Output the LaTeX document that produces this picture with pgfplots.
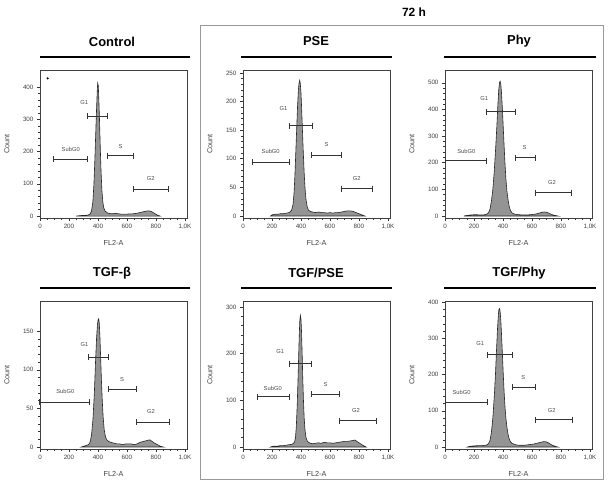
\documentclass[border=0pt]{standalone}
\usepackage{pgfplots}
\pgfplotsset{compat=1.18}
\usepackage{fontspec}
\setmainfont{Liberation Sans}
\pgfplotsset{
  flow/.style={scale only axis, width=147bp, height=148bp, anchor=north west,
    xmin=0, xmax=1014, xtick={0,200,400,600,800,1000},
    xticklabels={0,200,400,600,800,{1,0K}},
    minor x tick num=3, minor y tick num=4,
    tick align=outside, tick pos=left,
    major tick length=3bp, minor tick length=1.8bp,
    axis line style={black!75, line width=0.5bp},
    tick style={black!80, line width=0.5bp},
    /pgf/number format/assume math mode=true,
    tick label style={font=\fontsize{6.3}{7}\selectfont, text=black!75},
    xlabel={FL2-A}, ylabel={Count},
    label style={font=\fontsize{7.3}{8}\selectfont, text=black!75},
    xlabel style={at={(axis description cs:0.5,-0.17)}, anchor=center},
    ylabel style={at={(axis description cs:-0.225,0.5)}, anchor=center},
  },
  hist/.style={fill=black!42, draw=black!85, line width=0.6bp},
  gate/.style={black!80, line width=1bp, mark=|, mark size=3bp, mark options={solid, line width=1bp}},
}
\tikzset{
  glab/.style={font=\fontsize{5.8}{6.5}\selectfont, text=black!70},
  ttl/.style={font=\fontsize{13}{15}\selectfont\bfseries},
  bar/.style={line width=2bp},
}
\begin{document}
\begin{tikzpicture}
\useasboundingbox (0,0) rectangle (610bp,-486bp);
% frame and headings
\draw[black!40, line width=0.8bp] (200bp,-25bp) rectangle (603bp,-479bp);
\node[font=\fontsize{12}{14}\selectfont\bfseries] at (414bp,-12bp) {72 h};
\node[ttl] at (112bp,-42bp) {Control};
\node[ttl] at (316bp,-41bp) {PSE};
\node[ttl] at (519bp,-41bp) {Phy};
\node[ttl] at (112bp,-273bp) {TGF-β};
\node[ttl] at (316bp,-273bp) {TGF/PSE};
\node[ttl] at (519bp,-273bp) {TGF/Phy};
\draw[bar] (40bp,-57bp) -- (190bp,-57bp);
\draw[bar] (241bp,-57bp) -- (392bp,-57bp);
\draw[bar] (444bp,-57bp) -- (596bp,-57bp);
\draw[bar] (40bp,-288bp) -- (190bp,-288bp);
\draw[bar] (241bp,-288bp) -- (392bp,-288bp);
\draw[bar] (444bp,-288bp) -- (596bp,-288bp);

% Control
\begin{axis}[flow, at={(40bp,-70bp)}, ymin=-6, ymax=453, ytick={0,100,200,300,400}]
\addplot[hist] coordinates {(250,0)(270,1)(290,2)(310,2)(330,3)(345,6)(355,15)(365,45)(372,100)(378,170)(384,250)(390,330)(395,390)(398,412)(402,405)(406,360)(411,290)(416,210)(421,140)(427,80)(433,45)(440,25)(450,15)(465,10)(480,8)(500,7)(520,9)(540,7)(560,6)(580,6)(600,6)(620,7)(640,7)(660,8)(680,10)(700,12)(720,14)(740,16)(755,16)(768,14)(780,11)(795,7)(810,3)(828,0)} \closedcycle;
\addplot[only marks, mark=*, mark size=0.8bp, black] coordinates {(53,427)};
\addplot[gate] coordinates {(326,310)(467,310)};
\addplot[gate] coordinates {(92,176)(329,176)};
\addplot[gate] coordinates {(464,187)(644,187)};
\addplot[gate] coordinates {(644,83)(888,83)};
\node[glab] at (axis cs:305,351) {G1};
\node[glab] at (axis cs:212,208) {SubG0};
\node[glab] at (axis cs:556,215) {S};
\node[glab] at (axis cs:763,115) {G2};
\end{axis}

% PSE
\begin{axis}[flow, at={(243bp,-70bp)}, ymin=-3.5, ymax=255, ytick={0,50,100,150,200,250}]
\addplot[hist] coordinates {(190,0)(200,2)(220,3)(240,3)(260,4)(280,4)(300,5)(320,6)(335,10)(345,20)(352,40)(358,70)(364,110)(370,150)(376,190)(382,220)(387,233)(391,237)(395,232)(400,215)(405,185)(410,150)(416,110)(422,75)(428,48)(435,28)(443,16)(452,10)(465,8)(480,7)(500,6)(520,7)(540,6)(560,6)(580,5)(600,6)(620,5)(640,6)(660,6)(680,7)(700,8)(720,9)(740,9)(760,8)(780,6)(800,4)(820,2)(840,0)} \closedcycle;
\addplot[gate] coordinates {(321,158)(477,158)};
\addplot[gate] coordinates {(63,94)(319,94)};
\addplot[gate] coordinates {(472,106)(681,106)};
\addplot[gate] coordinates {(679,48)(895,48)};
\node[glab] at (axis cs:279,188) {G1};
\node[glab] at (axis cs:191,113) {SubG0};
\node[glab] at (axis cs:577,124) {S};
\node[glab] at (axis cs:784,66) {G2};
\end{axis}

% Phy
\begin{axis}[flow, at={(445bp,-70bp)}, ymin=-7.5, ymax=548, ytick={0,100,200,300,400,500}]
\addplot[hist] coordinates {(130,0)(150,2)(180,4)(210,5)(240,4)(265,4)(285,6)(300,12)(310,25)(320,55)(330,100)(340,170)(350,260)(358,340)(365,420)(371,475)(376,500)(380,506)(385,495)(390,460)(396,400)(402,330)(408,260)(414,195)(420,140)(427,95)(435,60)(443,35)(452,20)(462,12)(475,8)(490,6)(510,5)(530,4)(550,4)(570,4)(590,5)(610,6)(630,8)(650,11)(670,14)(685,15)(700,14)(715,11)(730,7)(745,4)(760,2)(778,0)} \closedcycle;
\addplot[gate] coordinates {(287,391)(486,391)};
\addplot[gate] coordinates {(5,207)(287,207)};
\addplot[gate] coordinates {(486,218)(621,218)};
\addplot[gate] coordinates {(621,88)(874,88)};
\node[glab] at (axis cs:271,442) {G1};
\node[glab] at (axis cs:147,243) {SubG0};
\node[glab] at (axis cs:549,258) {S};
\node[glab] at (axis cs:738,125) {G2};
\end{axis}

% TGF-beta
\begin{axis}[flow, at={(40bp,-301bp)}, ymin=-2.6, ymax=189, ytick={0,50,100,150}]
\addplot[hist] coordinates {(285,0)(300,1)(320,2)(335,3)(345,6)(355,15)(365,35)(375,70)(383,110)(390,140)(396,158)(401,165)(405,166)(409,160)(414,140)(419,112)(424,85)(430,58)(436,38)(443,22)(452,13)(462,9)(475,7)(490,6)(510,5)(530,4)(550,4)(570,3)(590,4)(610,4)(630,4)(650,3)(670,4)(690,6)(710,7)(730,8)(750,9)(760,9)(775,7)(790,5)(810,3)(830,1)(850,0)} \closedcycle;
\addplot[gate] coordinates {(333,116)(474,116)};
\addplot[gate] coordinates {(0,58)(338,58)};
\addplot[gate] coordinates {(474,75)(667,75)};
\addplot[gate] coordinates {(667,32)(892,32)};
\node[glab] at (axis cs:306,133) {G1};
\node[glab] at (axis cs:175,72) {SubG0};
\node[glab] at (axis cs:566,87) {S};
\node[glab] at (axis cs:766,46) {G2};
\end{axis}

% TGF/PSE
\begin{axis}[flow, at={(243bp,-301bp)}, ymin=-4.3, ymax=313, ytick={0,100,200,300}]
\addplot[hist] coordinates {(190,0)(200,1)(220,2)(240,2)(260,3)(280,3)(300,4)(320,5)(340,6)(355,10)(362,20)(368,45)(374,90)(379,140)(384,195)(388,240)(392,272)(396,282)(400,274)(404,245)(408,200)(412,150)(417,100)(422,62)(428,35)(435,20)(443,13)(452,10)(465,8)(480,7)(500,8)(520,9)(540,8)(560,10)(580,9)(600,9)(620,8)(640,9)(660,10)(680,11)(700,12)(720,12)(740,13)(760,14)(772,15)(785,12)(800,9)(815,6)(830,3)(849,0)} \closedcycle;
\addplot[gate] coordinates {(321,179)(472,179)};
\addplot[gate] coordinates {(100,108)(321,108)};
\addplot[gate] coordinates {(472,113)(663,113)};
\addplot[gate] coordinates {(663,56)(919,56)};
\node[glab] at (axis cs:256,205) {G1};
\node[glab] at (axis cs:205,126) {SubG0};
\node[glab] at (axis cs:570,135) {S};
\node[glab] at (axis cs:779,78) {G2};
\end{axis}

% TGF/Phy
\begin{axis}[flow, at={(445bp,-301bp)}, ymin=-5.5, ymax=403, ytick={0,100,200,300,400}]
\addplot[hist] coordinates {(155,0)(170,2)(200,3)(230,4)(260,4)(285,5)(300,9)(310,18)(320,40)(330,80)(340,140)(348,200)(355,265)(362,325)(368,365)(372,380)(376,382)(380,375)(385,350)(390,310)(396,255)(402,200)(408,150)(414,110)(420,80)(427,55)(435,35)(443,22)(452,14)(462,10)(475,8)(490,6)(510,5)(530,5)(550,5)(570,6)(590,7)(610,8)(630,10)(650,12)(670,14)(685,15)(700,14)(715,11)(730,7)(745,4)(760,2)(778,0)} \closedcycle;
\addplot[gate] coordinates {(292,255)(467,255)};
\addplot[gate] coordinates {(0,123)(292,123)};
\addplot[gate] coordinates {(463,165)(624,165)};
\addplot[gate] coordinates {(624,75)(876,75)};
\node[glab] at (axis cs:243,287) {G1};
\node[glab] at (axis cs:114,150) {SubG0};
\node[glab] at (axis cs:540,192) {S};
\node[glab] at (axis cs:736,102) {G2};
\end{axis}
\end{tikzpicture}
\end{document}
